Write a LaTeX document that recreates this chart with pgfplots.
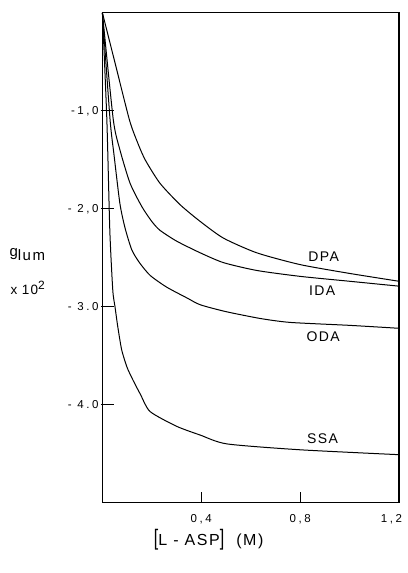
\documentclass[border=0pt]{standalone}
\usepackage{fontspec}
\setmainfont[LetterSpace=10]{Liberation Sans}
\newfontfamily\tickfont[LetterSpace=22]{Liberation Sans}
\usepackage{graphicx}
\usepackage{pgfplots}
\pgfplotsset{compat=1.18}
\usetikzlibrary{calc}
\begin{document}
\begin{tikzpicture}
\begin{axis}[name=ax, scale only axis, width=296.6pt, height=489.9pt,
  xmin=0, xmax=1.2, ymin=-5, ymax=0,
  line width=1.1pt,
  tick align=inside, xtick pos=left, ytick pos=left,
  major tick length=11pt,
  xtick style={black, line width=1pt}, ytick style={black, line width=1pt},
  xtick={0.4,0.8,1.2}, xticklabels={{0,4},{0,8},{\hspace*{-15pt}1,2}},
  ytick={-1,-2,-3,-4}, yticklabels={{-1,0},{- 2,0},{- 3.0},{- 4.0}},
  ticklabel style={font=\tickfont\fontsize{11.5}{13}\selectfont},
  xticklabel style={yshift=-8pt},
  clip=false]
% DPA
\addplot[black, line width=1pt, smooth, tension=0.4] coordinates {(0,0) (0.05,-0.50) (0.109,-1.09) (0.14,-1.31) (0.173,-1.50) (0.233,-1.74) (0.315,-1.96) (0.396,-2.13) (0.49,-2.30) (0.625,-2.45) (0.80,-2.57) (1.0,-2.66) (1.2,-2.74)};
% IDA
\addplot[black, line width=1pt, smooth, tension=0.4] coordinates {(0,0) (0.044,-1.09) (0.071,-1.40) (0.112,-1.74) (0.16,-1.98) (0.20,-2.13) (0.233,-2.22) (0.30,-2.33) (0.396,-2.45) (0.49,-2.55) (0.625,-2.63) (0.80,-2.69) (1.0,-2.74) (1.2,-2.79)};
% ODA
\addplot[black, line width=1pt, smooth, tension=0.4] coordinates {(0,0) (0.031,-1.09) (0.047,-1.45) (0.071,-1.95) (0.092,-2.20) (0.119,-2.42) (0.15,-2.55) (0.193,-2.68) (0.26,-2.80) (0.342,-2.91) (0.396,-2.98) (0.5,-3.05) (0.639,-3.12) (0.76,-3.16) (1.0,-3.19) (1.2,-3.22)};
% SSA
\addplot[black, line width=1pt, smooth, tension=0.4] coordinates {(0,0) (0.018,-1.09) (0.030,-2.22) (0.042,-2.83) (0.051,-3.0) (0.062,-3.2) (0.078,-3.44) (0.10,-3.62) (0.124,-3.75) (0.155,-3.9) (0.193,-4.07) (0.30,-4.22) (0.396,-4.31) (0.504,-4.40) (0.8,-4.46) (1.2,-4.51)};
% tick marks (axis decoration)
\draw[line width=1pt] (axis cs:0.4,-5) -- ([yshift=10pt]axis cs:0.4,-5);
\draw[line width=1pt] (axis cs:0.8,-5) -- ([yshift=10pt]axis cs:0.8,-5);
\draw[line width=1pt] ([xshift=-1.5pt]axis cs:0,-1) -- ([xshift=11.5pt]axis cs:0,-1);
\draw[line width=1pt] ([xshift=-1.5pt]axis cs:0,-2) -- ([xshift=11.5pt]axis cs:0,-2);
\draw[line width=1pt] ([xshift=-1.5pt]axis cs:0,-3) -- ([xshift=11.5pt]axis cs:0,-3);
\draw[line width=1pt] ([xshift=-1.5pt]axis cs:0,-4) -- ([xshift=11.5pt]axis cs:0,-4);
\node[font=\fontsize{14}{16}\selectfont] at (axis cs:0.895,-2.49) {DPA};
\node[font=\fontsize{14}{16}\selectfont] at (axis cs:0.889,-2.84) {IDA};
\node[font=\fontsize{14}{16}\selectfont] at (axis cs:0.893,-3.31) {ODA};
\node[font=\fontsize{14}{16}\selectfont] at (axis cs:0.891,-4.35) {SSA};
\node[anchor=west, inner sep=0pt, font=\fontsize{15}{17}\selectfont] at ([xshift=-93.4pt]axis cs:0,-2.47) {g\raisebox{-4pt}{lum}};
\node[anchor=west, inner sep=0pt, font=\fontsize{13.5}{15}\selectfont] at ([xshift=-92.4pt]axis cs:0,-2.81) {x\,\,10\raisebox{5.5pt}{\fontsize{12}{13}\selectfont 2}};
\node[inner sep=0pt, font=\fontsize{16}{18}\selectfont] at ([yshift=-37.3pt]axis cs:0.43,-5) {\scalebox{1}[1.4]{[}L - ASP\scalebox{1}[1.4]{]}\hspace{12pt}(M)};
\end{axis}
\pgfresetboundingbox
\path ($(ax.south west)+(-102.4pt,-70.3pt)$) rectangle ($(ax.north east)+(8pt,12.8pt)$);
\end{tikzpicture}
\end{document}
